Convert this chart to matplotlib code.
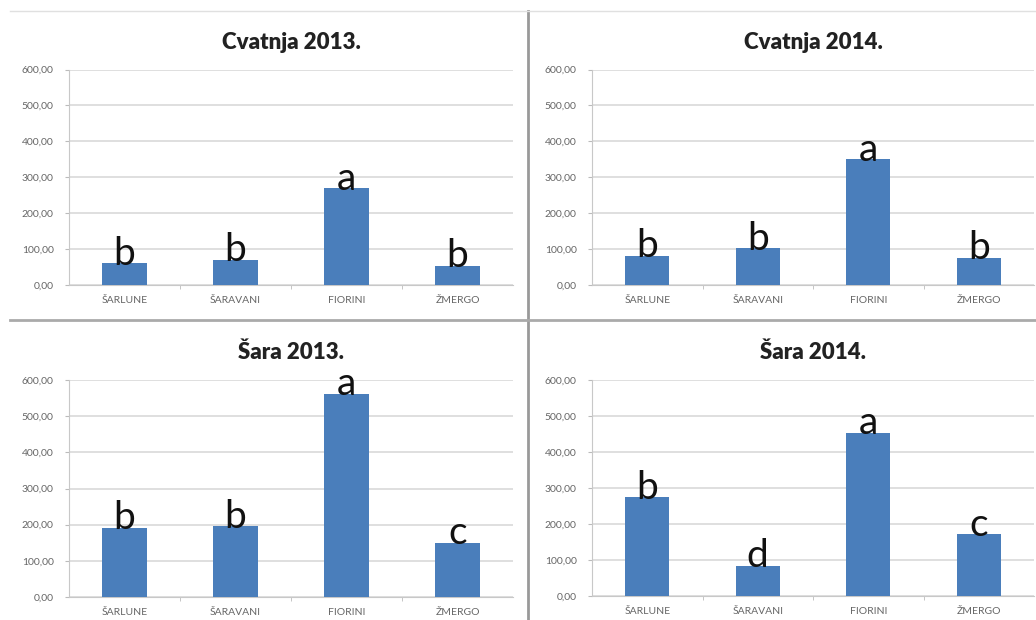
import matplotlib.pyplot as plt
from matplotlib.lines import Line2D

plt.rcParams['font.family'] = ['Lato', 'DejaVu Sans']

# podaci
kategorije = ['ŠARLUNE', 'ŠARAVANI', 'FIORINI', 'ŽMERGO']
naslovi = ['Cvatnja 2013.', 'Cvatnja 2014.', 'Šara 2013.', 'Šara 2014.']
cvatnja_2013 = [60, 70, 269, 54]
cvatnja_2014 = [81, 102, 350, 76]
sara_2013 = [192, 196, 562, 150]
sara_2014 = [274, 84, 453, 172]
slova_c13 = ['b', 'b', 'a', 'b']
slova_c14 = ['b', 'b', 'a', 'b']
slova_s13 = ['b', 'b', 'a', 'c']
slova_s14 = ['b', 'd', 'a', 'c']
y_ticks = [0, 100, 200, 300, 400, 500, 600]

vrijednosti = [cvatnja_2013, cvatnja_2014, sara_2013, sara_2014]
slova = [slova_c13, slova_c14, slova_s13, slova_s14]

W, H = 1036, 620
fig = plt.figure(figsize=(W / 100, H / 100), dpi=100)

# polozaji osi u pikselima: (lijevo, dolje(0), desno, gore(600))
okviri = [(69, 285, 513, 69.5), (592, 285, 1034, 69.5),
          (69, 597, 513, 380), (592, 596, 1034, 380)]

for i in range(4):
    x0, y0, x1, y1 = okviri[i]
    ax = fig.add_axes([x0 / W, (H - y0) / H, (x1 - x0) / W, (y0 - y1) / H])
    poz = range(len(kategorije))
    ax.bar(poz, vrijednosti[i], width=0.4, color='#4a7ebb', zorder=3)
    for x, v, s in zip(poz, vrijednosti[i], slova[i]):
        ax.text(x, v - 4, s, ha='center', va='baseline', fontsize=28,
                color='#111111', zorder=4)
    ax.set_ylim(0, 600)
    ax.set_xlim(-0.5, 3.5)
    ax.set_yticks(y_ticks)
    ax.set_yticklabels([f'{t:.2f}'.replace('.', ',') for t in y_ticks],
                       fontsize=7.5, color='#666666')
    ax.set_xticks(list(poz))
    ax.set_xticklabels(kategorije, fontsize=7.5, color='#666666')
    ax.set_xticks([0.5, 1.5, 2.5], minor=True)
    ax.tick_params(axis='x', which='major', length=0, pad=8)
    ax.tick_params(axis='x', which='minor', length=3, color='#bbbbbb')
    ax.tick_params(axis='y', length=3, color='#bbbbbb', pad=8)
    ax.grid(axis='y', color='#d9d9d9', linewidth=1.2, zorder=0)
    for s in ['top', 'right']:
        ax.spines[s].set_visible(False)
    ax.spines['left'].set_color('#c8c8c8')
    ax.spines['bottom'].set_color('#c8c8c8')
    ax.set_title(naslovi[i], fontsize=16, fontweight='heavy', color='#222222',
                 pad=15)

# razdjelne linije
fig.add_artist(Line2D([528 / W, 528 / W], [0, (H - 11) / H],
                      color='#999999', linewidth=2))
fig.add_artist(Line2D([10 / W, 1], [(H - 320) / H, (H - 320) / H],
                      color='#aaaaaa', linewidth=2))
fig.add_artist(Line2D([10 / W, 1], [(H - 11) / H, (H - 11) / H],
                      color='#e0e0e0', linewidth=1))

fig.savefig('out.png', dpi=100)
